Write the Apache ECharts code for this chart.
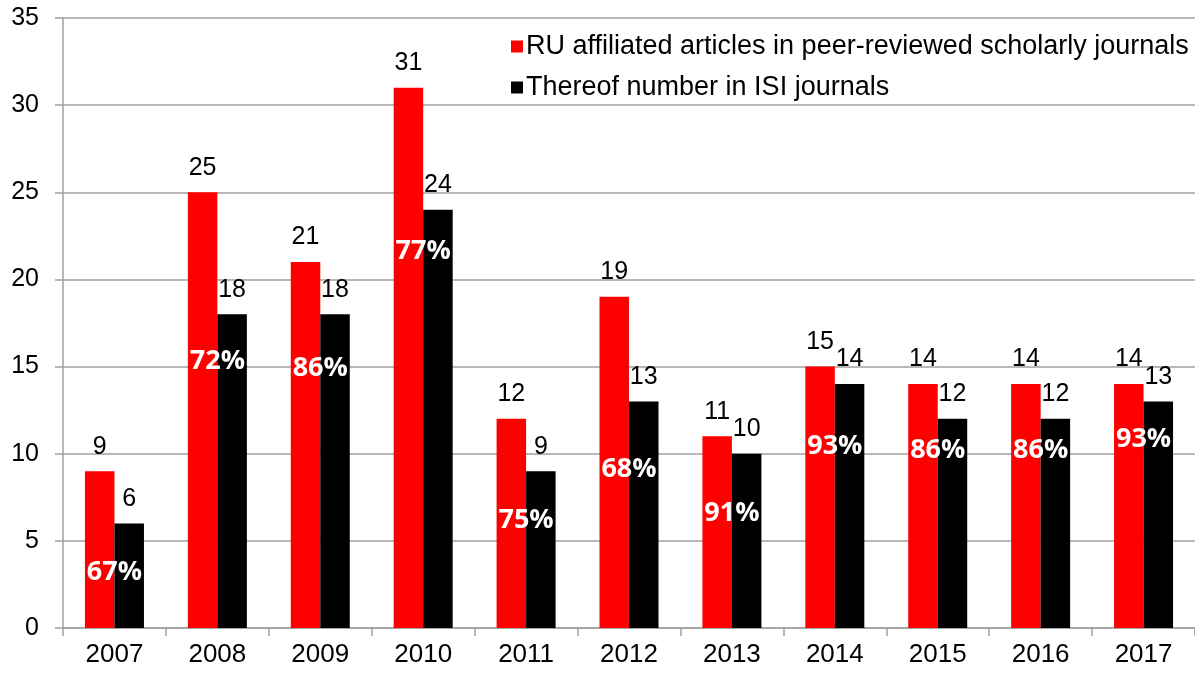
<!DOCTYPE html>
<html>
<head>
<meta charset="utf-8">
<title>RU articles</title>
<script src="https://cdn.jsdelivr.net/npm/echarts@6/dist/echarts.min.js"></script>
<style>
  html, body { margin: 0; padding: 0; background: #fff; }
  #chart { width: 1195px; height: 675px; }
</style>
</head>
<body>
<div id="chart"></div>
<script>
const years = ['2007', '2008', '2009', '2010', '2011', '2012', '2013', '2014', '2015', '2016', '2017']
const articles = [9, 25, 21, 31, 12, 19, 11, 15, 14, 14, 14]
const isiArticles = [6, 18, 18, 24, 9, 13, 10, 14, 12, 12, 13]
// height (in axis units) where the share label sits in the picture
const shareLabelAt = [3.2, 15.3, 14.9, 21.6, 6.2, 9.1, 6.6, 10.4, 10.2, 10.2, 10.8]

const chart = echarts.init(document.getElementById('chart'))
const axisGray = '#a0a0a0'
const font = 'Liberation Sans, Arial, sans-serif'

const shares = isiArticles.map((v, i) => Math.round(v / articles[i] * 100) + '%')

chart.setOption({
  animation: false,
  grid: { left: 63, right: 0, top: 18, bottom: 47 },
  legend: {
    data: ['RU affiliated articles in peer-reviewed scholarly journals', 'Thereof number in ISI journals'],
    orient: 'vertical',
    left: 506,
    top: 28,
    itemWidth: 12,
    itemHeight: 12,
    itemGap: 14,
    icon: 'rect',
    textStyle: { fontFamily: font, fontSize: 27, color: '#000', padding: [0, 0, 0, -2] }
  },
  xAxis: {
    type: 'category',
    data: years,
    axisLine: { lineStyle: { color: axisGray, width: 1.5 } },
    axisTick: { show: true, length: 8, lineStyle: { color: axisGray, width: 1.5 } },
    axisLabel: { fontFamily: font, fontSize: 26, color: '#000', margin: 14 }
  },
  yAxis: {
    type: 'value',
    min: 0,
    max: 35,
    interval: 5,
    axisLine: { show: true, lineStyle: { color: axisGray, width: 1.5 } },
    axisTick: { show: true, length: 8, lineStyle: { color: axisGray, width: 1.5 } },
    splitLine: { lineStyle: { color: axisGray, width: 1.5 } },
    axisLabel: { fontFamily: font, fontSize: 25, color: '#000', margin: 24 }
  },
  series: [
    {
      name: 'RU affiliated articles in peer-reviewed scholarly journals',
      type: 'bar',
      data: articles,
      barWidth: 29.5,
      barGap: '0%',
      itemStyle: { color: '#ff0000' },
      label: { show: true, position: 'top', distance: 12, fontFamily: font, fontSize: 25, color: '#000' }
    },
    {
      name: 'Thereof number in ISI journals',
      type: 'bar',
      data: isiArticles,
      barWidth: 29.5,
      itemStyle: { color: '#000' },
      label: { show: true, position: 'top', distance: 12, fontFamily: font, fontSize: 25, color: '#000' }
    },
    {
      name: 'share',
      type: 'scatter',
      data: shareLabelAt,
      symbolSize: 0,
      z: 10,
      silent: true,
      itemStyle: { opacity: 1 },
      label: {
        show: true,
        position: 'inside',
        formatter: p => shares[p.dataIndex],
        fontFamily: 'Open Sans, sans-serif',
        fontWeight: 'bold',
        fontSize: 27,
        color: '#fff',
        opacity: 1
      }
    }
  ]
})
</script>
</body>
</html>
